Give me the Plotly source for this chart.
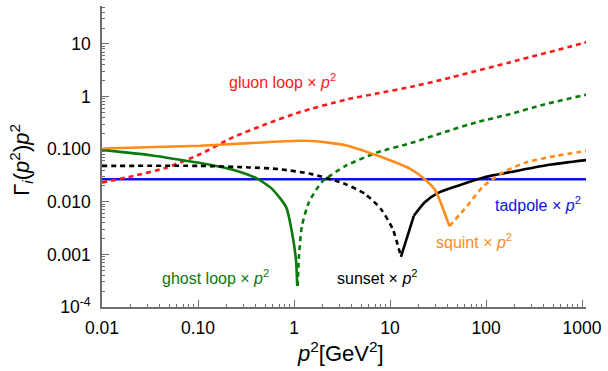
import numpy as np
import plotly.graph_objects as go

# --- vertex contributions Γ_i(p²)·p² versus p² [GeV²] ---
gluon_x = [0.01, 0.0214, 0.048, 0.105, 0.23, 0.514, 1.126, 3.44, 7.5, 16.4, 36.9, 176.6, 1047, 1150]
gluon_y = [0.0233, 0.031, 0.0449, 0.080, 0.167, 0.30, 0.499, 0.87, 1.15, 1.52, 2.14, 4.45, 10.4, 10.9]

ghost_pos_x = [0.01, 0.032, 0.065, 0.133, 0.23, 0.405, 0.593, 0.828, 0.953, 1.05, 1.08]
ghost_pos_y = [0.097, 0.0768, 0.063, 0.0507, 0.0407, 0.0281, 0.0174, 0.0079, 0.0026, 0.00076, 0.00025]
ghost_neg_x = [1.09, 1.126, 1.21, 1.43, 1.95, 3.44, 7.5, 16.4, 36.9, 80.7, 176.6, 396, 1047, 1150]
ghost_neg_y = [0.00025, 0.00093, 0.0035, 0.0098, 0.0236, 0.048, 0.0877, 0.13, 0.21, 0.326, 0.462, 0.70, 1.06, 1.10]

sunset_pos_x = [0.01, 0.105, 0.344, 0.70, 1.53, 3.44, 5.52, 8.07, 10.7, 13.0]
sunset_pos_y = [0.048, 0.048, 0.0449, 0.0417, 0.0335, 0.0216, 0.014, 0.0072, 0.0030, 0.0009]
sunset_neg_x = [13.0, 17.7]
sunset_neg_y = [0.0009, 0.0054]
sunset_tail_x = [17.7, 23.0, 31.3, 50.2, 94.6, 209, 457, 1180]
sunset_tail_y = [0.0054, 0.0098, 0.0146, 0.020, 0.029, 0.0386, 0.0503, 0.0627]

squint_pos_x = [0.0102, 0.105, 0.344, 1.126, 1.53, 3.44, 7.5, 16.4, 23.0, 29.0, 33.6, 41.6]
squint_pos_y = [0.103, 0.116, 0.13, 0.144, 0.143, 0.119, 0.0746, 0.0417, 0.0269, 0.0174, 0.0098, 0.00344]
squint_neg_x = [41.6, 63.7, 94.6, 152, 265, 540, 1146]
squint_neg_y = [0.00344, 0.00836, 0.020, 0.0366, 0.0566, 0.0746, 0.093]

tadpole_x = [0.01, 0.05, 0.11, 0.118, 0.126, 0.5, 1.0, 1.07, 1.15, 5, 20, 100, 500, 1150]
tadpole_y = [0.0268, 0.0268, 0.0268, 0.0262, 0.0268, 0.0269, 0.0268, 0.0262, 0.0268, 0.0268, 0.0269, 0.0268, 0.0268, 0.0268]

RED = "#FF1A1A"
GREEN = "#0A7A0A"
BLACK = "#000000"
ORANGE = "#FF8C1A"
BLUE = "#1010F0"
DASH = "5px,4px"
LW = 2.6

fig = go.Figure()

def add(x, y, color, dash=None, smooth=True):
    fig.add_trace(go.Scatter(
        x=x, y=y, mode="lines", showlegend=False, hoverinfo="skip",
        line=dict(color=color, width=LW, dash=dash if dash else "solid",
                  shape="spline" if smooth else "linear", smoothing=0.6),
    ))

add(tadpole_x, tadpole_y, BLUE, smooth=False)
add(gluon_x, gluon_y, RED, DASH)
add(ghost_neg_x, ghost_neg_y, GREEN, DASH)
add(ghost_pos_x, ghost_pos_y, GREEN)
add(sunset_pos_x, sunset_pos_y, BLACK, DASH)
add(sunset_neg_x, sunset_neg_y, BLACK, smooth=False)
add(sunset_tail_x, sunset_tail_y, BLACK)
add(squint_neg_x, squint_neg_y, ORANGE, DASH)
add(squint_pos_x, squint_pos_y, ORANGE)

AXIS_COLOR = "#6e6e6e"
FONT = "Liberation Sans, Arial, Helvetica, sans-serif"

x_tickvals = [0.01, 0.1, 1, 10, 100, 1000]
x_ticktext = ["0.01", "0.10", "1", "10", "100", "1000"]
y_tickvals = [1e-4, 1e-3, 1e-2, 1e-1, 1, 10]
y_ticktext = ["10<sup>-4</sup>", "0.001", "0.010", "0.100", "1", "10"]

axis_common = dict(
    type="log", showgrid=False, zeroline=False, mirror=False,
    showline=True, linecolor=AXIS_COLOR, linewidth=1.6,
    ticks="inside", ticklen=7, tickwidth=1.2, tickcolor=AXIS_COLOR,
    tickfont=dict(family=FONT, size=17.5, color="black"),
    minor=dict(ticks="inside", ticklen=3.5, tickwidth=1, tickcolor=AXIS_COLOR,
               dtick="D1", showgrid=False),
)

fig.update_xaxes(range=[-2, np.log10(1100)], tickvals=x_tickvals,
                 ticktext=x_ticktext, ticklabelstandoff=4, **axis_common)
fig.update_yaxes(range=[-4, 1.72], tickvals=y_tickvals,
                 ticktext=y_ticktext, ticklabelstandoff=6, **axis_common)

def label(text, x, y, color, size=16, angle=0):
    fig.add_annotation(text=text, x=x, y=y, xref="paper", yref="paper",
                       showarrow=False, textangle=angle,
                       font=dict(family=FONT, size=size, color=color),
                       xanchor="center", yanchor="middle")

P2 = "<i>p</i><sup>2</sup>"
label("gluon loop × " + P2, 0.372, 0.752, RED)
label("ghost loop × " + P2, 0.235, 0.100, GREEN)
label("sunset × " + P2, 0.569, 0.100, BLACK)
label("squint × " + P2, 0.769, 0.220, ORANGE)
label("tadpole × " + P2, 0.900, 0.343, BLUE)

label(P2 + "[GeV<sup>2</sup>]", 0.493, -0.150, "black", size=22)
label("Γ<sub><i>i</i></sub>(" + P2 + ")" + P2, -0.168, 0.488, "black", size=22, angle=-90)

fig.update_layout(
    width=608, height=371,
    margin=dict(l=102, r=17, t=6, b=64),
    paper_bgcolor="white", plot_bgcolor="white",
    font=dict(family=FONT),
)

fig.write_html("out.html")
